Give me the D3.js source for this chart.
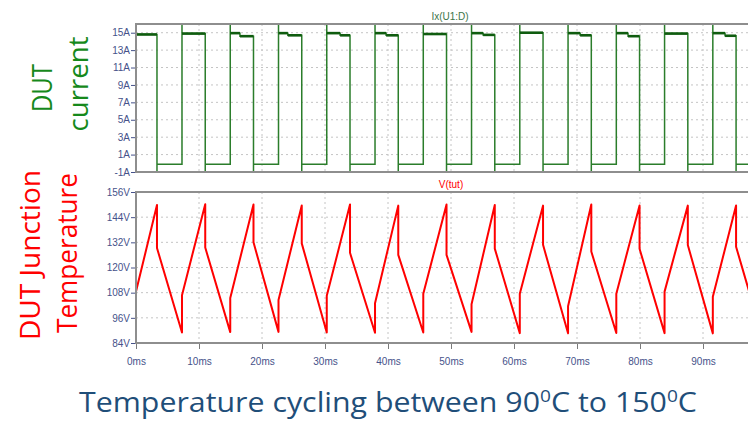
<!DOCTYPE html>
<html>
<head>
<meta charset="utf-8">
<script src="https://cdn.jsdelivr.net/npm/d3@7"></script>
<style>
  html, body { margin: 0; padding: 0; background: #ffffff; }
  svg { display: block; }
</style>
</head>
<body>
<svg id="chart" width="748" height="421"></svg>
<script>
// ---- time axis (ms); the window ends at 100 ms ----
const timeTicks = [0, 10, 20, 30, 40, 50, 60, 70, 80, 90];
const timeLabels = ["0ms", "10ms", "20ms", "30ms", "40ms", "50ms", "60ms", "70ms", "80ms", "90ms"];
const timeEnd = 100;

// ---- current panel ticks (A) ----
const currentTicks = [-1, 1, 3, 5, 7, 9, 11, 13, 15];
const currentLabels = ["-1A", "1A", "3A", "5A", "7A", "9A", "11A", "13A", "15A"];

// ---- temperature panel ticks (V = °C in the thermal model) ----
const tempTicks = [84, 96, 108, 120, 132, 144, 156];
const tempLabels = ["84V", "96V", "108V", "120V", "132V", "144V", "156V"];

// ---- switching edges of the DUT current (ms) ----
const riseTimes = [0, 7.30, 14.96, 22.62, 30.28, 37.94, 45.60, 53.26, 60.92, 68.58, 76.24, 83.90, 91.56, 99.22];
const fallTimes = [3.33, 10.99, 18.65, 26.31, 33.97, 41.63, 49.29, 56.95, 64.61, 72.27, 79.93, 87.59, 95.25];

// on-state current: level before and after the small droop step (A); step time (ms), null = flat
const highLevelA = [14.8, 14.9, 14.95, 14.95, 14.95, 14.95, 14.85, 14.95, 15.0, 14.95, 14.95, 14.9, 14.95, 14.9];
const highLevelB = [14.8, 14.9, 14.6, 14.7, 14.7, 14.7, 14.85, 14.75, 15.0, 14.7, 14.6, 14.9, 14.65, 14.9];
const highStepTimes = [null, null, 16.5, 24.1, 32.4, 39.7, null, 55.1, null, 70.5, 78.1, null, 93.5, null];
const offCurrent = -0.1;
// switching transients overshoot past the plotted range
const riseOvershoot = 18;
const fallUndershoot = -3;

// ---- junction temperature at each edge ----
const tempAtTurnOn = [90.3, 89.0, 89.2, 89.3, 89.0, 88.9, 89.0, 89.3, 88.7, 88.6, 88.8, 88.7, 88.6, 89.0];
const tempAfterTurnOn = [108.5, 106.8, 105.5, 104.5, 106.5, 103.0, 107.5, 102.5, 107.5, 101.5, 107.5, 108.5, 106.0, 106.0];
const tempAtTurnOff = [149.8, 150.2, 150.0, 149.6, 150.0, 149.5, 150.0, 149.8, 149.5, 150.0, 149.6, 149.5, 149.6];
const tempAfterTurnOff = [129.3, 129.5, 132.0, 131.5, 127.0, 126.0, 126.0, 129.0, 130.8, 127.6, 128.9, 130.7, 129.9];

// ---- build traces from the edge tables ----
const currentPts = [];
const highSegs = [];
riseTimes.forEach((r, k) => {
  const f = k < fallTimes.length ? fallTimes[k] : timeEnd;
  const step = highStepTimes[k];
  currentPts.push([r, offCurrent], [r, riseOvershoot], [r, highLevelA[k]]);
  if (step !== null) {
    currentPts.push([step, highLevelA[k]], [step, highLevelB[k]]);
    highSegs.push([[r, highLevelA[k]], [step, highLevelA[k]]], [[step, highLevelB[k]], [f, highLevelB[k]]]);
  } else {
    highSegs.push([[r, highLevelA[k]], [f, highLevelB[k]]]);
  }
  currentPts.push([f, highLevelB[k]]);
  if (k < fallTimes.length) {
    currentPts.push([f, fallUndershoot], [f, offCurrent]);
  }
});

const tempPts = [];
riseTimes.forEach((r, k) => {
  tempPts.push([r, tempAtTurnOn[k]], [r, tempAfterTurnOn[k]]);
  if (k < fallTimes.length) {
    tempPts.push([fallTimes[k], tempAtTurnOff[k]], [fallTimes[k], tempAfterTurnOff[k]]);
  }
});

// ---- layout ----
const svg = d3.select("#chart");
const x = d3.scaleLinear().domain([0, timeEnd]).range([136, 766]);
const yI = d3.scaleLinear().domain([-1, 16]).range([172, 24]);
const yT = d3.scaleLinear().domain([84, 156]).range([343, 192]);

const tickFont = "'Liberation Sans', Arial, sans-serif";
const tickColor = "#46528a";
const gridColor = "#c4c4c4";
const frameColor = "#8e8e8e";

function panel(id, yScale, gridVals) {
  const [y1, y0] = yScale.range().slice().sort((a, b) => a - b);
  const g = svg.append("g");
  g.append("rect")
    .attr("x", x(0)).attr("y", y1)
    .attr("width", x(timeEnd) - x(0)).attr("height", y0 - y1)
    .attr("fill", "#ffffff");
  // dotted grid
  g.selectAll(".hgrid").data(gridVals).enter().append("line")
    .attr("x1", x(0)).attr("x2", x(timeEnd))
    .attr("y1", d => yScale(d)).attr("y2", d => yScale(d))
    .attr("stroke", gridColor).attr("stroke-width", 1).attr("stroke-dasharray", "2,3");
  g.selectAll(".vgrid").data(timeTicks.filter(t => t > 0)).enter().append("line")
    .attr("x1", d => x(d)).attr("x2", d => x(d))
    .attr("y1", y1).attr("y2", y0)
    .attr("stroke", gridColor).attr("stroke-width", 1).attr("stroke-dasharray", "2,3");
  svg.append("clipPath").attr("id", id)
    .append("rect").attr("x", x(0)).attr("y", y1)
    .attr("width", x(timeEnd) - x(0)).attr("height", y0 - y1);
  return { g, y0, y1 };
}

const pI = panel("clipI", yI, currentTicks.filter(v => v > -1));
const pT = panel("clipT", yT, tempTicks.filter(v => v > 84 && v < 156));

// ---- current trace ----
const lineI = d3.line().x(d => x(d[0])).y(d => yI(d[1]));
const gI = svg.append("g").attr("clip-path", "url(#clipI)");
gI.append("path").datum(currentPts)
  .attr("d", lineI).attr("fill", "none")
  .attr("stroke", "#2b7d2b").attr("stroke-width", 1.5);
gI.selectAll(".hi").data(highSegs).enter().append("path")
  .attr("d", lineI).attr("fill", "none")
  .attr("stroke", "#0f5c0f").attr("stroke-width", 2.6);

// ---- temperature trace ----
const lineT = d3.line().x(d => x(d[0])).y(d => yT(d[1]));
svg.append("g").attr("clip-path", "url(#clipT)")
  .append("path").datum(tempPts)
  .attr("d", lineT).attr("fill", "none")
  .attr("stroke", "#ff0000").attr("stroke-width", 2)
  .attr("stroke-linejoin", "round");

// ---- frames ----
[pI, pT].forEach(p => {
  svg.append("rect")
    .attr("x", x(0)).attr("y", p.y1)
    .attr("width", x(timeEnd) - x(0)).attr("height", p.y0 - p.y1)
    .attr("fill", "none").attr("stroke", frameColor).attr("stroke-width", 2);
});

// ---- axes ----
function styleAxis(sel) {
  sel.select(".domain").remove();
  sel.selectAll("text").attr("font-family", tickFont).attr("font-size", 10).attr("fill", tickColor);
}
svg.append("g").attr("transform", `translate(${x(0) - 1},0)`)
  .call(d3.axisLeft(yI).tickValues(currentTicks)
    .tickFormat((d, i) => currentLabels[i]).tickSize(4).tickPadding(1))
  .call(styleAxis)
  .selectAll("line").attr("stroke", tickColor);
svg.append("g").attr("transform", `translate(${x(0) - 1},0)`)
  .call(d3.axisLeft(yT).tickValues(tempTicks)
    .tickFormat((d, i) => tempLabels[i]).tickSize(4).tickPadding(1))
  .call(styleAxis)
  .selectAll("line").attr("stroke", tickColor);
svg.append("g").attr("transform", `translate(0,${yT.range()[0] + 1})`)
  .call(d3.axisBottom(x).tickValues(timeTicks)
    .tickFormat((d, i) => timeLabels[i]).tickSize(5).tickPadding(9))
  .call(styleAxis)
  .selectAll("line").attr("stroke", "#7a7a7a");

// ---- trace names ----
svg.append("text").attr("x", 450).attr("y", 20)
  .attr("text-anchor", "middle").attr("font-family", tickFont).attr("font-size", 10)
  .attr("fill", "#3b7548").text("Ix(U1:D)");
svg.append("text").attr("x", 451).attr("y", 188)
  .attr("text-anchor", "middle").attr("font-family", tickFont).attr("font-size", 10)
  .attr("fill", "#ff0000").text("V(tut)");

// ---- side captions ----
const capFont = "'Open Sans', 'Noto Sans', sans-serif";
function sideLabel(text, bx, cy, len, color) {
  svg.append("text")
    .attr("transform", `translate(${bx},${cy}) rotate(-90)`)
    .attr("text-anchor", "middle")
    .attr("font-family", capFont).attr("font-size", 28)
    .attr("fill", color)
    .attr("textLength", len).attr("lengthAdjust", "spacingAndGlyphs")
    .text(text);
}
sideLabel("DUT", 52, 88, 48, "#16891b");
sideLabel("current", 88, 84, 95, "#16891b");
sideLabel("DUT Junction", 40, 255, 170, "#ff0000");
sideLabel("Temperature", 77, 253, 160, "#ff0000");

// ---- caption: pieces laid out left to right, superscripts raised ----
const capParts = [
  { t: "Temperature cycling between 90", sup: false },
  { t: "0", sup: true },
  { t: "C to 150", sup: false },
  { t: "0", sup: true },
  { t: "C", sup: false }
];
const capLeft = 79, capWidth = 618, capBase = 412;
const capG = svg.append("g").attr("font-family", capFont).attr("fill", "#1f4e79");
const capNodes = capParts.map(p => capG.append("text")
  .attr("y", p.sup ? capBase - 10 : capBase)
  .attr("font-size", p.sup ? 17 : 27)
  .text(p.t));
const natural = capNodes.reduce((s, n) => s + n.node().getComputedTextLength(), 0);
const squeeze = capWidth / natural;
let cx = capLeft;
capNodes.forEach(n => {
  const w = n.node().getComputedTextLength();
  n.attr("x", cx).attr("textLength", w * squeeze).attr("lengthAdjust", "spacingAndGlyphs");
  cx += w * squeeze;
});
</script>
</body>
</html>
